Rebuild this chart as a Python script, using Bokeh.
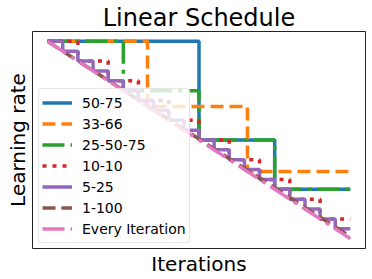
from bokeh.plotting import figure
from bokeh.models import Range1d, Legend, LegendItem, Title
from bokeh.embed import file_html
from bokeh.resources import INLINE

title_text = "Linear Schedule"
x_label = "Iterations"
y_label = "Learning rate"

series_names = ["50-75", "33-66", "25-50-75", "10-10", "5-25", "1-100", "Every Iteration"]

x_50_75 = [0, 50, 75, 100]
lr_50_75 = [1.0, 0.5, 0.25, 0.25]

x_33_66 = [0, 33, 66, 100]
lr_33_66 = [1.0, 0.67, 0.34, 0.34]

x_25_50_75 = [0, 25, 50, 75, 100]
lr_25_50_75 = [1.0, 0.75, 0.5, 0.25, 0.25]

x_10_10 = [0, 10, 20, 30, 40, 50, 60, 70, 80, 90, 100]
lr_10_10 = [1.0, 0.9, 0.8, 0.7, 0.6, 0.5, 0.4, 0.3, 0.2, 0.1, 0.1]

x_5_25 = [0, 5, 10, 15, 20, 25, 30, 35, 40, 45, 50, 55, 60, 65, 70, 75, 80, 85, 90, 95, 100]
lr_5_25 = [1.0, 0.95, 0.9, 0.85, 0.8, 0.75, 0.7, 0.65, 0.6, 0.55, 0.5,
           0.45, 0.4, 0.35, 0.3, 0.25, 0.2, 0.15, 0.1, 0.05, 0.05]

x_1_100 = [0, 100]
lr_1_100 = [1.0, 0.01]

x_every = [0, 100]
lr_every = [1.0, 0.0]

colors = ["#1f77b4", "#ff7f0e", "#2ca02c", "#d62728", "#9467bd", "#8c564b", "#e377c2"]
LW = 3.5
DASHED = "13 6"
DASHDOT = "22 6 4 6"
DOTTED = "4 6"

W, H = 372, 279
X0, X1 = -5, 105
Y0, Y1 = -0.05, 1.05

p = figure(width=W, height=H, x_range=Range1d(X0, X1), y_range=Range1d(Y0, Y1),
           x_axis_type=None, y_axis_type=None, toolbar_location=None,
           output_backend="svg",
           min_border_left=31, min_border_right=7, min_border_top=31, min_border_bottom=31)
p.xgrid.visible = False
p.ygrid.visible = False
p.outline_line_color = "#222222"
p.outline_line_width = 1
p.background_fill_color = "white"
p.border_fill_color = "white"

p.title.text = title_text
p.title.align = "center"
p.title.text_font = "DejaVu Sans"
p.title.text_font_size = "24px"
p.title.text_font_style = "normal"
p.title.text_color = "black"
p.title.standoff = 0
p.title.offset = 0

p.add_layout(Title(text=x_label, align="center", text_font="DejaVu Sans", text_font_size="20px",
                   text_font_style="normal", text_color="black", standoff=2), "below")
p.add_layout(Title(text=y_label, align="center", text_font="DejaVu Sans", text_font_size="20px",
                   text_font_style="normal", text_color="black", standoff=6), "left")

r1 = p.step(x_50_75, lr_50_75, mode="after", line_color=colors[0], line_width=LW)
r2 = p.step(x_33_66, lr_33_66, mode="after", line_color=colors[1], line_width=LW, line_dash=DASHED)
r3 = p.step(x_25_50_75, lr_25_50_75, mode="after", line_color=colors[2], line_width=LW, line_dash=DASHDOT)
r4 = p.step(x_10_10, lr_10_10, mode="after", line_color=colors[3], line_width=LW, line_dash=DOTTED)
r5 = p.step(x_5_25, lr_5_25, mode="after", line_color=colors[4], line_width=LW)
r6 = p.line(x_1_100, lr_1_100, line_color=colors[5], line_width=LW, line_dash=DASHED)
r7 = p.line(x_every, lr_every, line_color=colors[6], line_width=LW, line_dash=DASHDOT)

renderers = [r1, r2, r3, r4, r5, r6, r7]
legend = Legend(items=[LegendItem(label=n, renderers=[r]) for n, r in zip(series_names, renderers)],
                location=(6, 5), margin=0, padding=3, spacing=0,
                glyph_width=30, glyph_height=21, label_height=21, label_standoff=10,
                label_text_font="DejaVu Sans", label_text_font_size="14px",
                label_text_color="black",
                background_fill_color="white", background_fill_alpha=0.8,
                border_line_color="#cccccc", border_line_width=1)
try:
    legend.border_radius = 3
except Exception:
    pass
p.add_layout(legend, "center")

open("out.html", "w").write(file_html(p, INLINE))
